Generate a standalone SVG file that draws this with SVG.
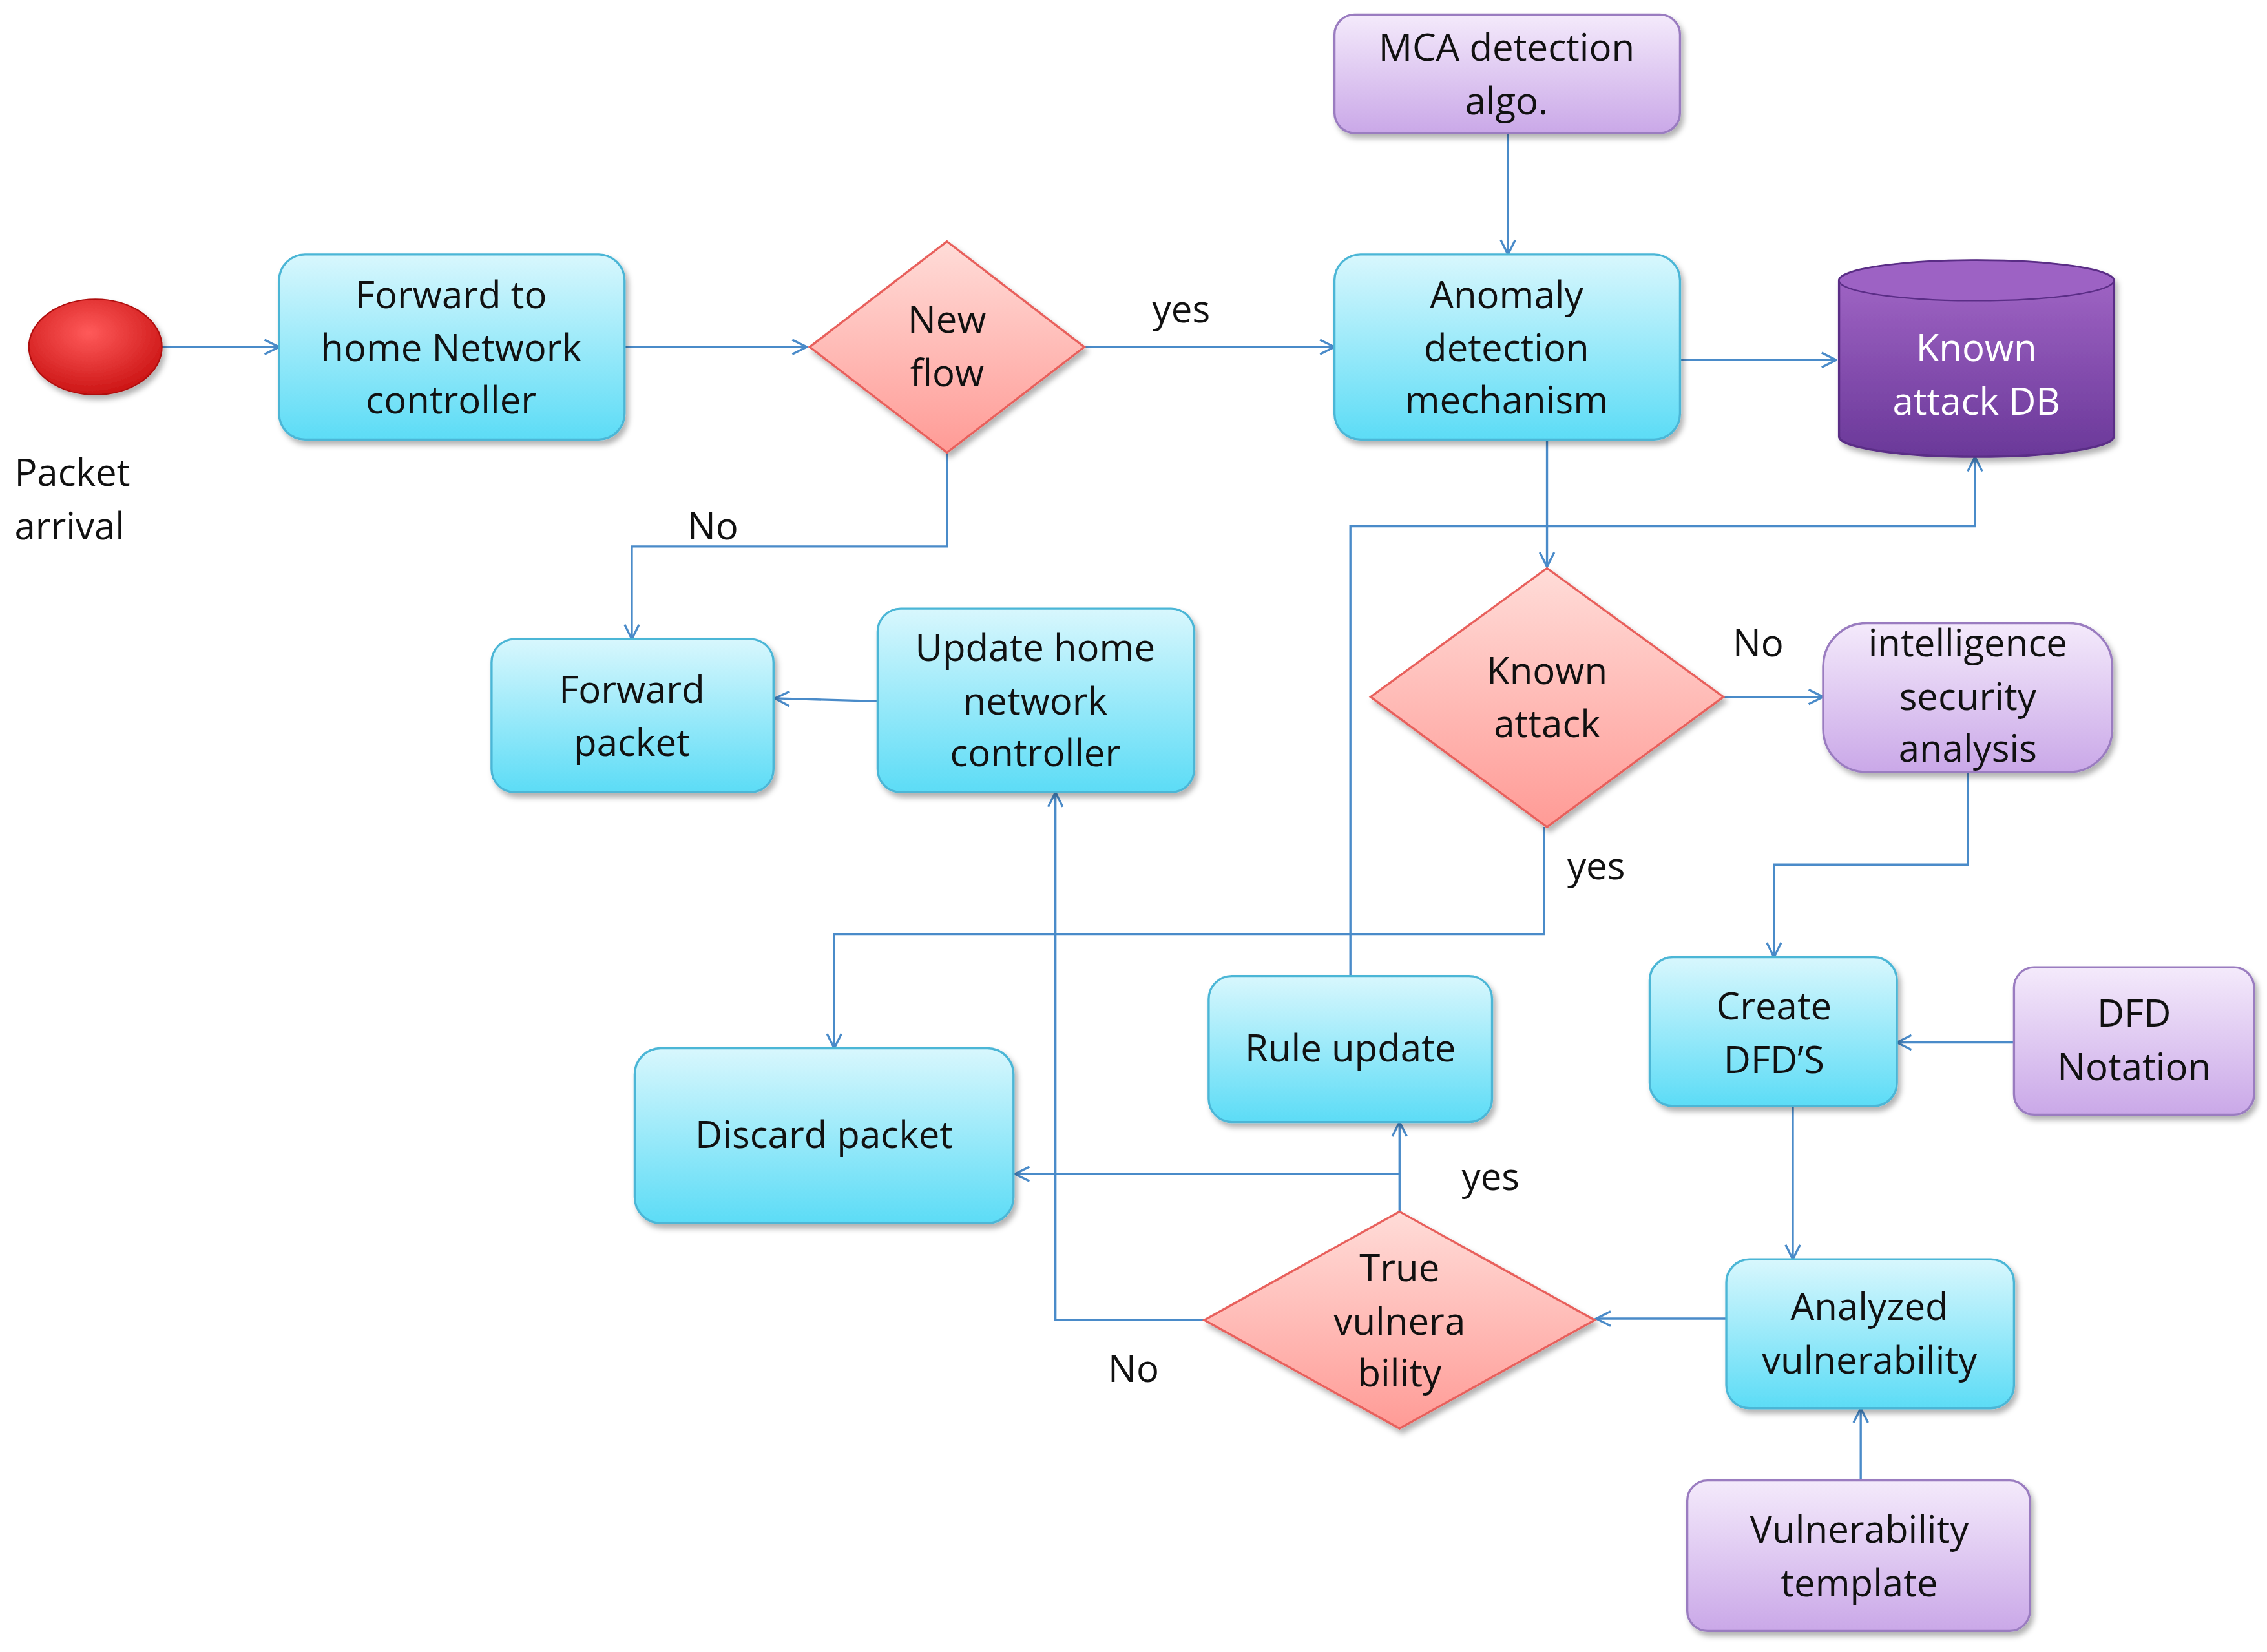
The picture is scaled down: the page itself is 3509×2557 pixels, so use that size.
<svg xmlns="http://www.w3.org/2000/svg" width="3509" height="2557" viewBox="0 0 3509 2557">
<defs>
<linearGradient id="cy" x1="0" y1="0" x2="0" y2="1"><stop offset="0" stop-color="#d8f7fd"/><stop offset="1" stop-color="#5cdcf6"/></linearGradient>
<linearGradient id="pk" x1="0" y1="0" x2="0" y2="1"><stop offset="0" stop-color="#ffdcd8"/><stop offset="1" stop-color="#ff9b96"/></linearGradient>
<linearGradient id="pu" x1="0" y1="0" x2="0" y2="1"><stop offset="0" stop-color="#f4eafb"/><stop offset="1" stop-color="#caa8e8"/></linearGradient>
<linearGradient id="dp" x1="0" y1="0" x2="0" y2="1"><stop offset="0" stop-color="#a468c8"/><stop offset="1" stop-color="#6a3899"/></linearGradient>
<radialGradient id="rd" cx="0.45" cy="0.35" r="0.7"><stop offset="0" stop-color="#ff5a5a"/><stop offset="1" stop-color="#c81010"/></radialGradient>
<marker id="ar" viewBox="0 0 12 12" refX="11" refY="6" markerWidth="12" markerHeight="12" markerUnits="userSpaceOnUse" orient="auto"><path d="M1,1 L11,6 L1,11" fill="none" stroke="#4a8bc9" stroke-width="1.5"/></marker>
<filter id="sh" x="-10%" y="-10%" width="130%" height="130%"><feDropShadow dx="2" dy="3" stdDeviation="2" flood-color="#000" flood-opacity="0.3"/></filter>
</defs>
<style>
.c{fill:url(#cy);stroke:#4cb6d6;stroke-width:1.5;filter:url(#sh)}
.p{fill:url(#pk);stroke:#e8605c;stroke-width:1.5;filter:url(#sh)}
.u{fill:url(#pu);stroke:#9a7cc0;stroke-width:1.5;filter:url(#sh)}
text{font-family:"Open Sans","Liberation Sans",sans-serif;font-size:26px;fill:#111;text-anchor:middle}
.l{text-anchor:start}
.w{fill:#fff}
#conn path{fill:none;stroke:#4a8bc9;stroke-width:1.5;marker-end:url(#ar)}
</style>
<rect width="3509" height="2557" fill="#fff"/>
<g transform="scale(2.2379)">
<g id="conn">
<path d="M112,240 H193"/>
<path d="M432,240 H558"/>
<path d="M750,240 H923"/>
<path d="M1043,92 V176"/>
<path d="M1162,249 H1270"/>
<path d="M655,313 V378 H437 V442"/>
<path d="M1070,304 V392"/>
<path d="M934,675 V364 H1366 V316"/>
<path d="M1192,482 H1261"/>
<path d="M1068,572 V646 H577 V725"/>
<path d="M1361,534 V598 H1227 V662"/>
<path d="M1393,721 H1312"/>
<path d="M1240,765 V871"/>
<path d="M1194,912 H1104"/>
<path d="M1287,1024 V974"/>
<path d="M968,838 V776"/>
<path d="M968,812 H702"/>
<path d="M833,913 H730 V548"/>
<path d="M607,485 L536,483"/>
</g>
<g id="start"><ellipse cx="66" cy="240" rx="46" ry="33" fill="url(#rd)" stroke="#b01010" stroke-width="1" filter="url(#sh)"/>
<text class="l" x="10" y="336">Packet</text><text class="l" x="10" y="373">arrival</text></g>
<g id="fwdctrl"><rect class="c" x="193" y="176" width="239" height="128" rx="18"/>
<text x="312" y="213">Forward to</text><text x="312" y="250">home Network</text><text x="312" y="286">controller</text></g>
<g id="newflow"><polygon class="p" points="655,167 750,240 655,313 560,240"/>
<text x="655" y="230">New</text><text x="655" y="267">flow</text></g>
<g id="mca"><rect class="u" x="923" y="10" width="239" height="82" rx="14"/>
<text x="1042" y="42">MCA detection</text><text x="1042" y="79">algo.</text></g>
<g id="anomaly"><rect class="c" x="923" y="176" width="239" height="128" rx="18"/>
<text x="1042" y="213">Anomaly</text><text x="1042" y="250">detection</text><text x="1042" y="286">mechanism</text></g>
<g id="db"><path d="M1272,194 V302 A95,14 0 0 0 1462,302 V194 A95,14 0 0 0 1272,194 Z" fill="url(#dp)" stroke="#5a2d86" stroke-width="1.5" filter="url(#sh)"/>
<ellipse cx="1367" cy="194" rx="95" ry="14" fill="#9d62c4" stroke="#5a2d86" stroke-width="1"/>
<text class="w" x="1367" y="250">Known</text><text class="w" x="1367" y="287">attack DB</text></g>
<g id="fwdpkt"><rect class="c" x="340" y="442" width="195" height="106" rx="16"/>
<text x="437" y="486">Forward</text><text x="437" y="523">packet</text></g>
<g id="update"><rect class="c" x="607" y="421" width="219" height="127" rx="16"/>
<text x="716" y="457">Update home</text><text x="716" y="494">network</text><text x="716" y="530">controller</text></g>
<g id="known"><polygon class="p" points="1070,393 1192,482 1070,572 948,482"/>
<text x="1070" y="473">Known</text><text x="1070" y="510">attack</text></g>
<g id="intel"><rect class="u" x="1261" y="431" width="200" height="103" rx="30"/>
<text x="1361" y="454">intelligence</text><text x="1361" y="491">security</text><text x="1361" y="527">analysis</text></g>
<g id="dfd"><rect class="c" x="1141" y="662" width="171" height="103" rx="16"/>
<text x="1227" y="705">Create</text><text x="1227" y="742">DFD’S</text></g>
<g id="notation"><rect class="u" x="1393" y="669" width="166" height="102" rx="14"/>
<text x="1476" y="710">DFD</text><text x="1476" y="747">Notation</text></g>
<g id="rule"><rect class="c" x="836" y="675" width="196" height="101" rx="16"/>
<text x="934" y="734">Rule update</text></g>
<g id="discard"><rect class="c" x="439" y="725" width="262" height="121" rx="18"/>
<text x="570" y="794">Discard packet</text></g>
<g id="truev"><polygon class="p" points="968,838 1103,913 968,988 833,913"/>
<text x="968" y="886">True</text><text x="968" y="923">vulnera</text><text x="968" y="959">bility</text></g>
<g id="analyzed"><rect class="c" x="1194" y="871" width="199" height="103" rx="16"/>
<text x="1293" y="913">Analyzed</text><text x="1293" y="950">vulnerability</text></g>
<g id="template"><rect class="u" x="1167" y="1024" width="237" height="104" rx="14"/>
<text x="1286" y="1067">Vulnerability</text><text x="1286" y="1104">template</text></g>
<g id="labels">
<text x="817" y="223">yes</text><text x="493" y="373">No</text><text x="1216" y="454">No</text>
<text x="1104" y="608">yes</text><text x="1031" y="823">yes</text><text x="784" y="956">No</text>
</g>
</g>
</svg>
